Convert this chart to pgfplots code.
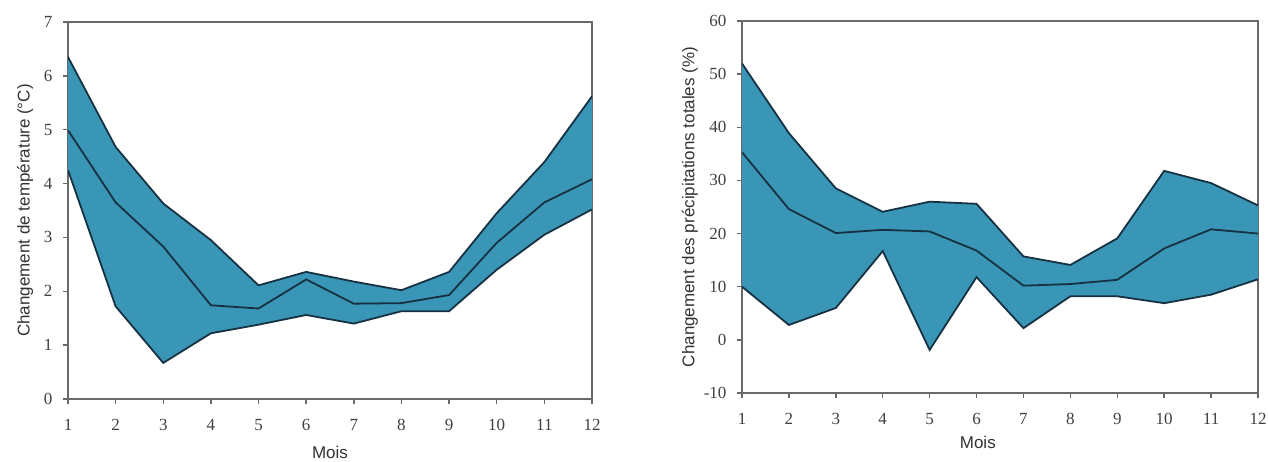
\documentclass[border=0pt]{standalone}
\usepackage{fontspec}
\setmainfont{Liberation Serif}
\newfontfamily\arial{Liberation Sans}
\usepackage{pgfplots}
\pgfplotsset{compat=1.18}
\usepackage{pgfplotstable}
\definecolor{bandfill}{RGB}{58,150,182}
\definecolor{bandline}{RGB}{22,50,66}
\definecolor{axgray}{RGB}{105,105,105}

% temperature: band outline (upper 1..12, then lower 12..1)
\pgfplotstableread{
m v
1 6.35
2 4.68
3 3.63
4 2.95
5 2.11
6 2.36
7 2.18
8 2.02
9 2.36
10 3.45
11 4.40
12 5.62
12 3.52
11 3.05
10 2.40
9 1.63
8 1.63
7 1.40
6 1.56
5 1.38
4 1.22
3 0.67
2 1.72
1 4.25
}\tempband

\pgfplotstableread{
m lo mean up
1 4.25 4.99 6.35
2 1.72 3.65 4.68
3 0.67 2.83 3.63
4 1.22 1.74 2.95
5 1.38 1.68 2.11
6 1.56 2.22 2.36
7 1.40 1.77 2.18
8 1.63 1.78 2.02
9 1.63 1.93 2.36
10 2.40 2.90 3.45
11 3.05 3.65 4.40
12 3.52 4.08 5.62
}\tempdata

\pgfplotstableread{
m v
1 52
2 38.9
3 28.5
4 24.1
5 26
6 25.6
7 15.7
8 14.1
9 19.1
10 31.8
11 29.5
12 25.3
12 11.4
11 8.5
10 6.9
9 8.2
8 8.2
7 2.2
6 11.8
5 -1.9
4 16.7
3 6
2 2.8
1 10
}\precband

\pgfplotstableread{
m lo mean up
1 10 35.3 52
2 2.8 24.6 38.9
3 6 20.1 28.5
4 16.7 20.7 24.1
5 -1.9 20.4 26
6 11.8 16.8 25.6
7 2.2 10.2 15.7
8 8.2 10.5 14.1
9 8.2 11.3 19.1
10 6.9 17.2 31.8
11 8.5 20.8 29.5
12 11.4 20 25.3
}\precdata

\pgfplotsset{
  mystyle/.style={
    scale only axis,
    xmin=1, xmax=12,
    xtick={1,...,12},
    tick align=outside,
    tick pos=left,
    major tick length=5pt,
    axis line style={axgray, line width=1.6pt},
    tick style={axgray, line width=1.4pt},
    ticklabel style={font=\fontsize{17}{17}\selectfont, text=black!75},
    xticklabel style={yshift=-12pt},
    yticklabel style={xshift=-7pt},
    /pgf/number format/assume math mode=true,
    label style={font=\arial\fontsize{17}{20}\selectfont, text=black!80},
  },
  bline/.style={draw=bandline, line width=1.8pt, mark=none},
}

\begin{document}
\begin{tikzpicture}
\useasboundingbox (0pt,0pt) rectangle (1268pt,462pt);

\begin{axis}[mystyle,
  at={(68pt,63pt)}, anchor=south west,
  width=524pt, height=377pt,
  ymin=0, ymax=7, ytick={0,...,7},
  xlabel={Mois}, ylabel={Changement de température (°C)},
  xlabel style={at={(axis description cs:0.5,-0.143)}, anchor=center},
  ylabel style={at={(axis description cs:-0.082,0.5)}, anchor=center},
]
\addplot[fill=bandfill, draw=none, mark=none] table[x=m, y=v] {\tempband} -- cycle;
\addplot[bline] table[x=m, y=up] {\tempdata};
\addplot[bline] table[x=m, y=lo] {\tempdata};
\addplot[bline] table[x=m, y=mean] {\tempdata};
\end{axis}

\begin{axis}[mystyle,
  at={(742pt,69pt)}, anchor=south west,
  width=516pt, height=372pt,
  ymin=-10, ymax=60, ytick={-10,0,...,60},
  xlabel={Mois}, ylabel={Changement des précipitations totales (\%)},
  xlabel style={at={(axis description cs:0.457,-0.134)}, anchor=center},
  ylabel style={at={(axis description cs:-0.101,0.5)}, anchor=center},
]
\addplot[fill=bandfill, draw=none, mark=none] table[x=m, y=v] {\precband} -- cycle;
\addplot[bline] table[x=m, y=up] {\precdata};
\addplot[bline] table[x=m, y=lo] {\precdata};
\addplot[bline] table[x=m, y=mean] {\precdata};
\end{axis}
\end{tikzpicture}
\end{document}
